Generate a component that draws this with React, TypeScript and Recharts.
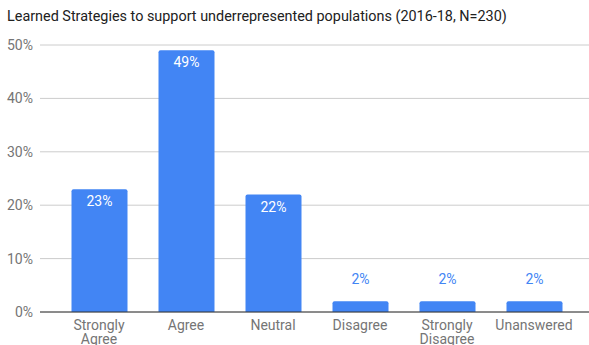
import React from "react";
import { BarChart, Bar, XAxis, YAxis, CartesianGrid, LabelList, ReferenceLine } from "recharts";

const categories = ["Strongly Agree", "Agree", "Neutral", "Disagree", "Strongly Disagree", "Unanswered"];
const percents = [23, 49, 22, 2, 2, 2];
const yTicks = [0, 10, 20, 30, 40, 50];
const title = "Learned Strategies to support underrepresented populations (2016-18, N=230)";

const data = categories.map((c, i) => ({ name: c, value: percents[i] }));

const FONT = "Roboto, 'Noto Sans', sans-serif";
const BLUE = "#4285F4";

const XTick = (props: any) => {
  const { x, y, payload } = props;
  const words = String(payload.value).split(" ");
  return (
    <text x={x} y={y} textAnchor="middle" fill="#757575" fontSize={14} fontFamily={FONT}>
      {words.map((w, i) => (
        <tspan key={i} x={x} y={y + 17.5 + i * 14}>
          {w}
        </tspan>
      ))}
    </text>
  );
};

const BarLabel = (props: any) => {
  const { x, y, width, value } = props;
  const cx = x + width / 2;
  const inside = value >= 5;
  return (
    <text
      x={cx}
      y={inside ? y + 17 : y - 17}
      textAnchor="middle"
      fill={inside ? "#ffffff" : BLUE}
      fontSize={14}
      fontFamily={FONT}
    >
      {`${value}%`}
    </text>
  );
};

export default function App() {
  return (
    <div style={{ position: "absolute", left: 0, top: 0, width: 589, height: 345, background: "#fff" }}>
      <div
        style={{
          position: "absolute",
          left: 7,
          top: 8,
          fontFamily: FONT,
          fontSize: 14.4,
          color: "#212121",
          whiteSpace: "nowrap",
          lineHeight: "18px",
        }}
      >
        {title}
      </div>
      <BarChart
        width={589}
        height={345}
        data={data}
        margin={{ top: 45, right: 0, bottom: 0, left: 0 }}
      >
        <CartesianGrid vertical={false} stroke="#cccccc" />
        <XAxis
          dataKey="name"
          interval={0}
          height={33}
          tickLine={false}
          axisLine={false}
          tickSize={0}
          tickMargin={0}
          padding={{ left: 15.5, right: 11.5 }}
          tick={<XTick />}
        />
        <YAxis
          width={40}
          domain={[0, 50]}
          ticks={yTicks}
          tickFormatter={(v: number) => `${v}%`}
          tickLine={false}
          axisLine={false}
          tickSize={0}
          tickMargin={7}
          tick={{ fill: "#757575", fontSize: 14, fontFamily: FONT }}
        />
        <ReferenceLine y={0} stroke="#333333" strokeWidth={1} />
        <Bar dataKey="value" fill={BLUE} barSize={56} radius={[2, 2, 0, 0]} isAnimationActive={false}>
          <LabelList dataKey="value" content={<BarLabel />} />
        </Bar>
      </BarChart>
    </div>
  );
}
